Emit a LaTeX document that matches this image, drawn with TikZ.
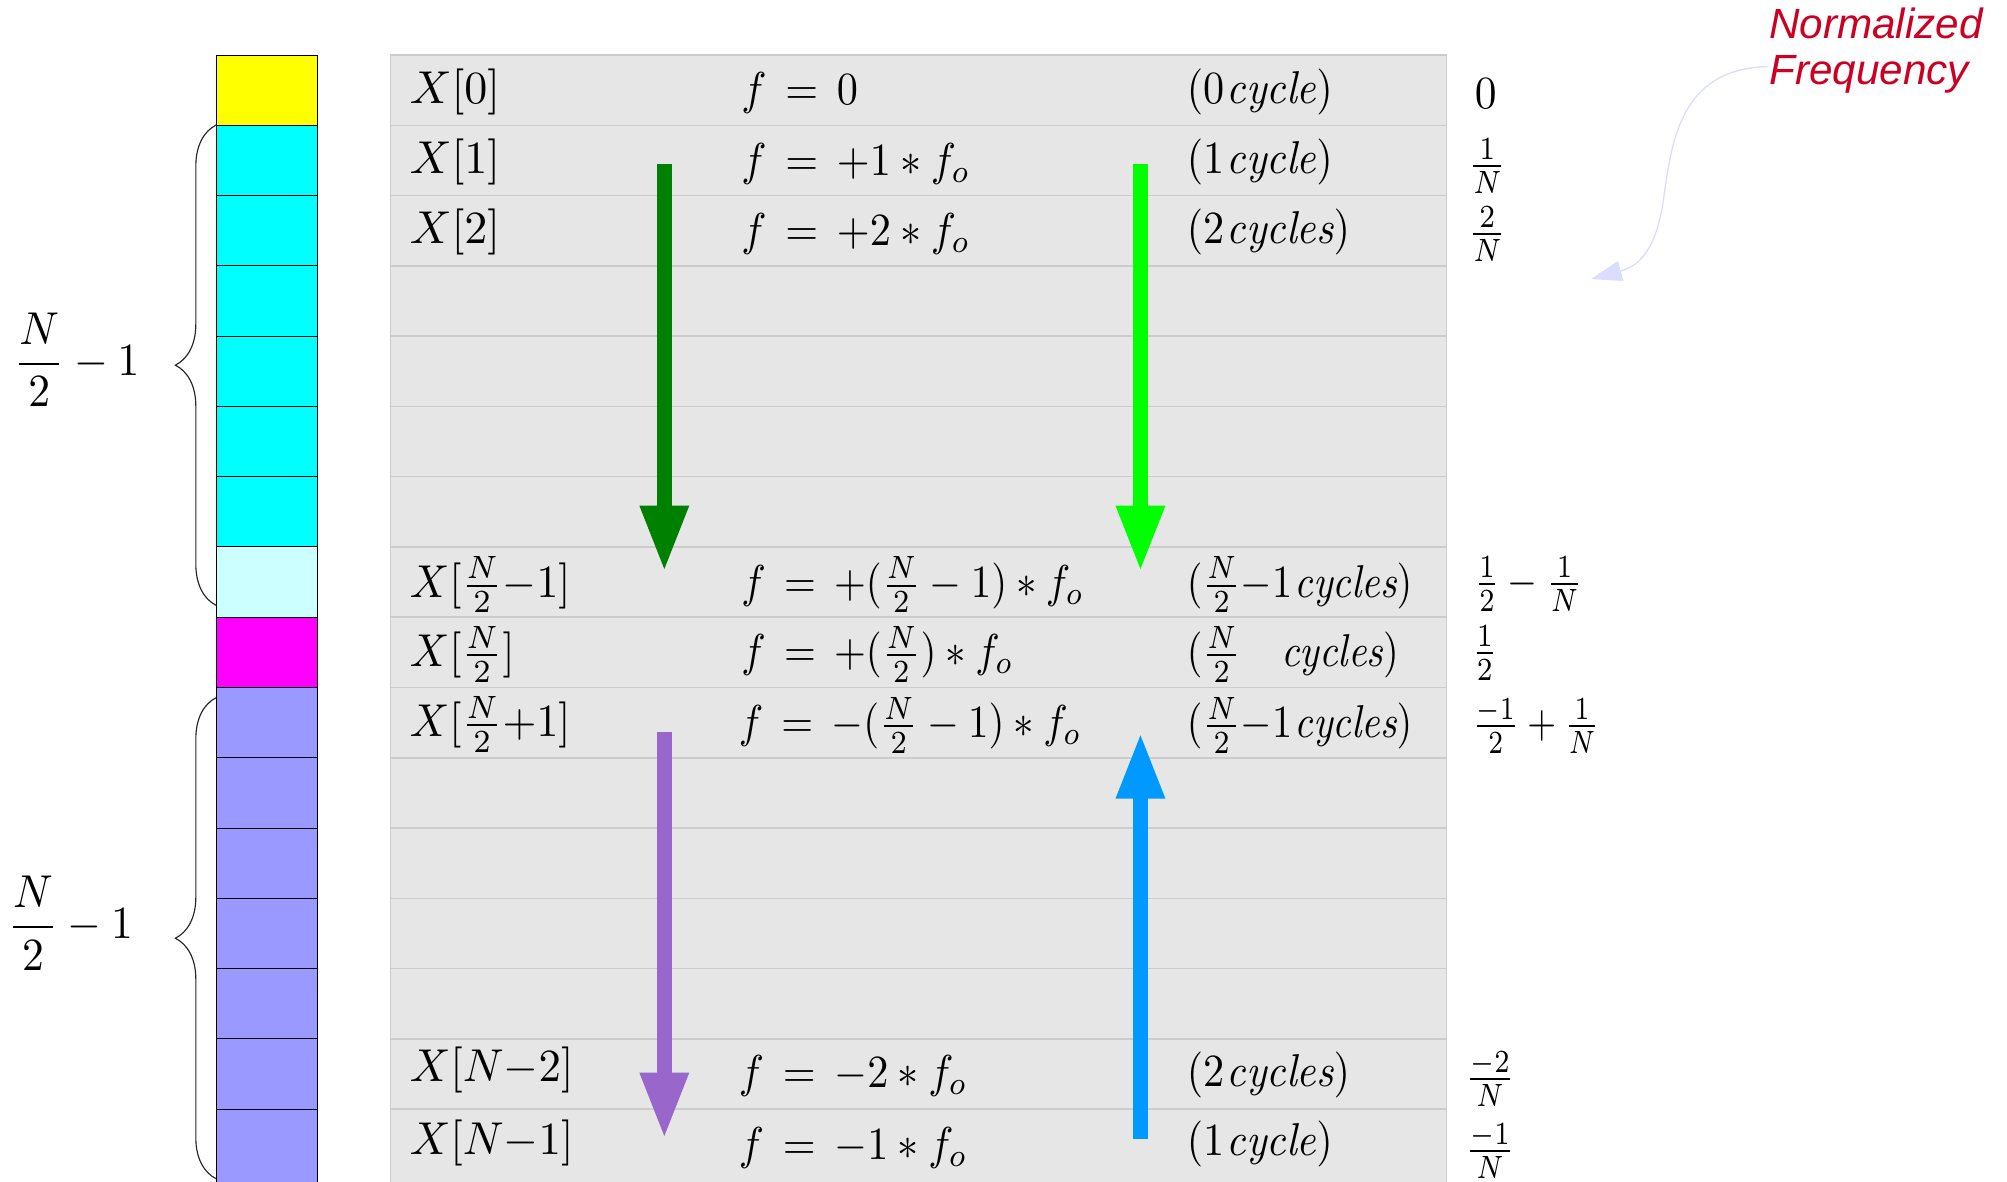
\documentclass[tikz,border=0pt]{standalone}
\usepackage{amsmath}
\usepackage{graphicx}
\usepackage{fontspec}
\newfontfamily\nffont{Liberation Sans}
\usetikzlibrary{arrows.meta,decorations.pathreplacing}
\newcommand{\mt}[2][3.4]{\scalebox{#1}[3.6]{$#2$}}
\definecolor{cyel}{HTML}{FFFF00}
\definecolor{ccyan}{HTML}{00FFFF}
\definecolor{clcyan}{HTML}{CCFFFF}
\definecolor{cmag}{HTML}{FF00FF}
\definecolor{cperi}{HTML}{9999FF}
\definecolor{rowfill}{HTML}{E6E6E6}
\definecolor{rowline}{HTML}{CCCCCC}
\definecolor{adgreen}{HTML}{008000}
\definecolor{abgreen}{HTML}{00FF00}
\definecolor{apurple}{HTML}{9966CC}
\definecolor{ablue}{HTML}{0099FF}
\definecolor{nfred}{HTML}{CC0022}
\definecolor{lav}{HTML}{DCDCFF}
\tikzset{
  cellbox/.style={draw=black, line width=0.8pt, minimum width=79pt, minimum height=54.9pt, inner sep=0pt, outer sep=0pt},
  rowbox/.style={draw=rowline, fill=rowfill, line width=1.2pt, minimum width=825pt, minimum height=54.9pt, inner sep=0pt, outer sep=0pt},
  txt/.style={anchor=west, inner sep=0pt},
  fatarrow/.style={line width=12pt, -{Triangle[width=35pt,length=52pt]}},
  bracestyle/.style={decorate, decoration={brace, amplitude=32pt}, line width=0.9pt, draw=black!85},
}
\begin{document}
\begin{tikzpicture}[x=1pt,y=-1pt]
\clip (0,0) rectangle (1568,923);
\fill[white] (0,0) rectangle (1568,923);
% left column of cells
\foreach \i/\c in {0/cyel,1/ccyan,2/ccyan,3/ccyan,4/ccyan,5/ccyan,6/ccyan,7/clcyan,8/cmag,9/cperi,10/cperi,11/cperi,12/cperi,13/cperi,14/cperi}{
  \node[cellbox, fill=\c] (c\i) at (208.5,{43+54.9*(\i+0.5)}) {};
}
\node[cellbox, fill=cperi, minimum height=74pt] (c15) at (208.5,{866.5+37}) {};
% table rows
\foreach \i in {0,...,14}{
  \node[rowbox] (r\i) at (717.5,{43+54.9*(\i+0.5)}) {};
}
\node[rowbox, minimum height=74pt] (r15) at (717.5,{866.5+37}) {};
% braces
\coordinate (b1s) at (169,473);
\coordinate (b1e) at (169,97.6);
\coordinate (b2s) at (169,921);
\coordinate (b2e) at (169,545);
\draw[bracestyle] (b1s) -- (b1e);
\draw[bracestyle] (b2s) -- (b2e);
\node (lab1) at (60,281) {\mt{\dfrac{N}{2}-1}};
\node (lab2) at (55,721) {\mt{\dfrac{N}{2}-1}};
% column 1
\node[txt] (x0) at (320,71.5) {\mt[3.6]{X[0]}};
\node[txt] (x1) at (320,126.4) {\mt[3.6]{X[1]}};
\node[txt] (x2) at (320,181.3) {\mt[3.6]{X[2]}};
\node[txt] (x7) at (320,457) {\mt{X[\tfrac{N}{2}{-}1]}};
\node[txt] (x8) at (320,511.5) {\mt{X[\tfrac{N}{2}]}};
\node[txt] (x9) at (320,566) {\mt{X[\tfrac{N}{2}{+}1]}};
\node[txt] (x14) at (320,836) {\mt[3.5]{X[N{-}2]}};
\node[txt] (x15) at (320,893) {\mt[3.5]{X[N{-}1]}};
% column 2
\node[txt] (f0) at (579,73) {\mt[3.3]{f\mkern3mu=\mkern3mu0}};
\node[txt] (f1) at (579,128) {\mt[3.3]{f\mkern3mu=\mkern3mu{+1}*f_o}};
\node[txt] (f2) at (579,183) {\mt[3.3]{f\mkern3mu=\mkern3mu{+2}*f_o}};
\node[txt] (f7) at (579,457) {\mt[3.2]{f\mkern3mu=\mkern3mu{+}(\tfrac{N}{2}-1)*f_o}};
\node[txt] (f8) at (579,511.5) {\mt[3.2]{f\mkern3mu=\mkern3mu{+}(\tfrac{N}{2})*f_o}};
\node[txt] (f9) at (577,567) {\mt[3.2]{f\mkern3mu=\mkern3mu{-}(\tfrac{N}{2}-1)*f_o}};
\node[txt] (f14) at (577,841) {\mt[3.3]{f\mkern3mu=\mkern3mu{-2}*f_o}};
\node[txt] (f15) at (577,897) {\mt[3.3]{f\mkern3mu=\mkern3mu{-1}*f_o}};
% column 3
\node[txt] (y0) at (927,72) {\mt[3.3]{(0\mkern1mu\mathit{cycle})}};
\node[txt] (y1) at (927,126.4) {\mt[3.3]{(1\mkern1mu\mathit{cycle})}};
\node[txt] (y2) at (927,181.3) {\mt[3.3]{(2\mkern1mu\mathit{cycles})}};
\node[txt] (y7) at (927,457) {\mt[3.15]{(\tfrac{N}{2}{-}1\mkern1mu\mathit{cycles})}};
\node[txt] (y8) at (927,511.5) {\mt[3.15]{(\tfrac{N}{2}\quad\mathit{cycles})}};
\node[txt] (y9) at (927,567) {\mt[3.15]{(\tfrac{N}{2}{-}1\mkern1mu\mathit{cycles})}};
\node[txt] (y14) at (927,840) {\mt[3.3]{(2\mkern1mu\mathit{cycles})}};
\node[txt] (y15) at (927,894) {\mt[3.3]{(1\mkern1mu\mathit{cycle})}};
% column 4 (normalized frequency)
\node[txt] (n0) at (1152,73) {\mt{0}};
\node (n1) at (1162,130) {\mt[3.1]{\tfrac{1}{N}}};
\node (n2) at (1162,183) {\mt[3.1]{\tfrac{2}{N}}};
\node[txt] (n7) at (1152,456) {\mt[3.0]{\tfrac{1}{2}-\tfrac{1}{N}}};
\node (n8) at (1160,510) {\mt[3.1]{\tfrac{1}{2}}};
\node[txt] (n9) at (1150,567) {\mt[2.9]{\tfrac{-1}{2}+\tfrac{1}{N}}};
\node (n14) at (1164,843) {\mt[3.0]{\tfrac{-2}{N}}};
\node (n15) at (1164,899) {\mt[3.0]{\tfrac{-1}{N}}};
% arrows
\coordinate (ga) at (519,128); \coordinate (gb) at (519,447);
\coordinate (la) at (891,128); \coordinate (lb) at (891,447);
\coordinate (pa) at (519,572); \coordinate (pb) at (519,890);
\coordinate (ba) at (891,890); \coordinate (bb) at (891,572);
\draw[fatarrow, adgreen] (ga) -- (gb);
\draw[fatarrow, abgreen] (la) -- (lb);
\draw[fatarrow, apurple] (pa) -- (pb);
\draw[fatarrow, ablue] (ba) -- (bb);
% annotation
\node[anchor=north west, align=left, inner sep=0pt, text=nfred, font=\nffont\itshape\fontsize{33}{36}\selectfont] (nf) at (1382,6) {Normalized\\Frequency};
\coordinate (nfs) at (1381,52);
\coordinate (nft) at (1243,218);
\draw[lav, line width=1pt, -{Triangle[width=16pt,length=24pt,fill=lav]}] (nfs) .. controls (1312,54) and (1306,110) .. (1299,160) .. controls (1293,196) and (1280,208) .. (nft);
\end{tikzpicture}
\end{document}
